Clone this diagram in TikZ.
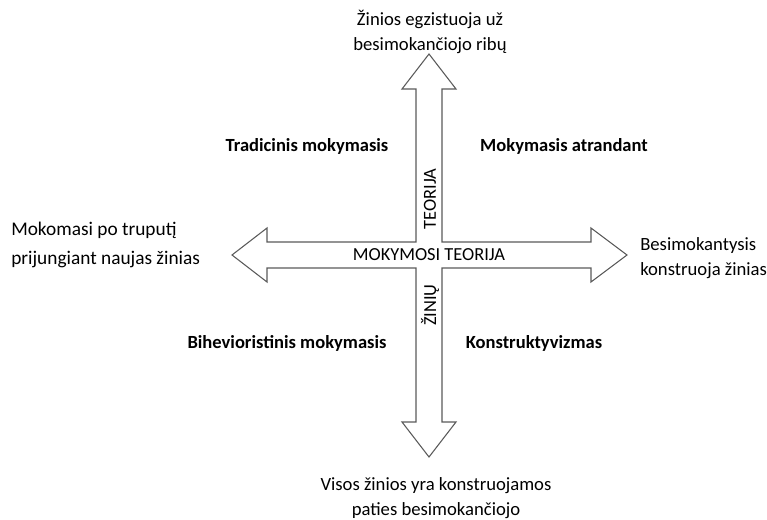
\documentclass[tikz,border=0pt]{standalone}
\usepackage{fontspec}
\setmainfont{Carlito}
\usepackage{tikz}
\usetikzlibrary{calc,positioning}
\definecolor{edge}{HTML}{5A5A5A}

\begin{document}
\begin{tikzpicture}[x=.75pt,y=-.75pt,
lbl/.style={font=\fontsize{14}{19}\selectfont,align=center,inner sep=0pt},
hd/.style={font=\fontsize{13.9}{17}\selectfont\bfseries,inner sep=0pt},
shaft/.style={font=\fontsize{13.8}{16}\selectfont,inner sep=0pt}]
\useasboundingbox (0,0) rectangle (767,520);
\coordinate (C) at (429,255);
% cross with four heads
\draw[edge,fill=white,line width=.8pt,line join=miter]
 (429,54)--(456,89)--(442,89)--(442,242)--(591,242)--(591,228)--(627,255)
 --(591,282)--(591,268)--(442,268)--(442,422)--(456,422)--(429,457)
 --(402,422)--(416,422)--(416,268)--(267,268)--(267,282)--(232,255)
 --(267,228)--(267,242)--(416,242)--(416,89)--(402,89)--cycle;
\node[shaft] (mt) at (C) {MOKYMOSI TEORIJA};
\node[shaft,rotate=90] (teo) at (430,199) {TEORIJA};
\node[shaft,rotate=90] (zin) at (430,305) {ŽINIŲ};
\node[lbl] (top) at (430,32) {Žinios egzistuoja už\\besimokančiojo ribų};
\node[lbl] (bot) at (436,498) {Visos žinios yra konstruojamos\\paties besimokančiojo};
\node[lbl,align=left,anchor=west,font=\fontsize{14.5}{22}\selectfont] (lft) at (11,245) {Mokomasi po truputį\\prijungiant naujas žinias};
\node[lbl,align=left,anchor=west] (rgt) at (640,258) {Besimokantysis\\konstruoja žinias};
\node[hd] (q1) at (307,146) {Tradicinis mokymasis};
\node[hd] (q2) at (564,146) {Mokymasis atrandant};
\node[hd] (q3) at (287,343) {Bihevioristinis mokymasis};
\node[hd] (q4) at (534,343) {Konstruktyvizmas};
\end{tikzpicture}
\end{document}
